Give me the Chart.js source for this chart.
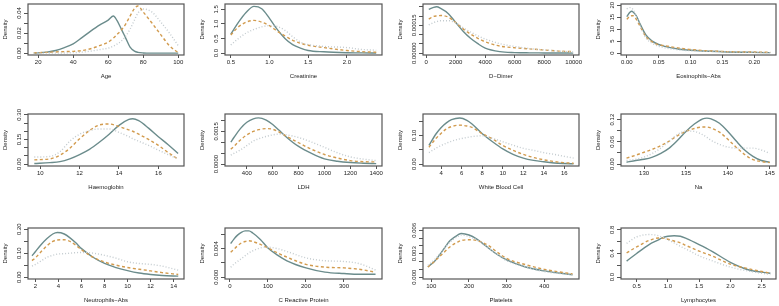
<!DOCTYPE html>
<html lang="en">
<head>
<meta charset="UTF-8">
<title>Densities by group</title>
<script src="https://cdn.jsdelivr.net/npm/chart.js"></script>
<style>
  html, body { margin: 0; padding: 0; background: #fff; overflow: hidden; }
  #wrap { position: relative; width: 779px; height: 306px; }
  canvas { position: absolute; }
</style>
</head>
<body>
<div id="wrap"></div>
<script>
// --- values (solid / dashed / dotted groups) ---
const ageX = [17.5, 25, 30, 35, 40, 45, 50, 55, 60, 63, 65, 67.5, 70, 72.5, 75, 77, 80, 85, 90, 95, 100];
const ageA = [0, 0.001, 0.0026, 0.0055, 0.0093, 0.0155, 0.022, 0.028, 0.033, 0.037, 0.0326, 0.024, 0.015, 0.006, 0.002, 0.0008, 0.0002, 0, 0, 0, 0];
const ageB = [0.0003, 0.0008, 0.0012, 0.0015, 0.0018, 0.0025, 0.0044, 0.0074, 0.011, 0.015, 0.0185, 0.023, 0.029, 0.037, 0.0444, 0.047, 0.041, 0.030, 0.0185, 0.0074, 0.0005];
const ageC = [0, 0, 0, 0.0002, 0.0005, 0.001, 0.002, 0.0035, 0.005, 0.007, 0.009, 0.012, 0.017, 0.024, 0.033, 0.040, 0.044, 0.041, 0.031, 0.020, 0.0074];

const creX = [0.5, 0.6, 0.7, 0.8, 0.9, 1.0, 1.1, 1.2, 1.3, 1.4, 1.5, 1.7, 2.0, 2.2, 2.38];
const creA = [0.65, 1.06, 1.4, 1.6, 1.52, 1.19, 0.81, 0.5, 0.29, 0.17, 0.09, 0.045, 0.015, 0.008, 0.005];
const creB = [0.62, 0.9, 1.06, 1.12, 1.06, 0.94, 0.75, 0.59, 0.44, 0.34, 0.27, 0.19, 0.09, 0.05, 0.03];
const creC = [0.28, 0.5, 0.69, 0.81, 0.9, 0.94, 0.91, 0.78, 0.56, 0.38, 0.29, 0.23, 0.19, 0.125, 0.1];

const ddX = [170, 500, 700, 1000, 1500, 2000, 2500, 3000, 3500, 4000, 5000, 6000, 7000, 8000, 9000, 9970];
const ddA = [0.000236, 0.000247, 0.00025, 0.00024, 0.000213, 0.000165, 0.000118, 0.00008, 0.000051, 0.000027, 0.000008, 0.000003, 0.0000015, 0.000001, 0.0000005, 0.0000003];
const ddB = [0.000184, 0.000198, 0.000201, 0.000203, 0.000194, 0.000165, 0.000131, 0.000103, 0.00008, 0.000061, 0.000038, 0.000029, 0.000023, 0.000017, 0.000011, 0.000008];
const ddC = [0.000152, 0.000165, 0.00017, 0.000175, 0.000175, 0.000164, 0.000137, 0.000114, 0.000093, 0.000076, 0.000051, 0.000036, 0.000025, 0.000017, 0.000011, 0.000006];

const eosX = [0, 0.005, 0.008, 0.01, 0.015, 0.02, 0.03, 0.04, 0.05, 0.06, 0.07, 0.08, 0.1, 0.15, 0.2, 0.225];
const eosA = [15.2, 17.05, 17.5, 17.2, 15.6, 12.7, 7.6, 5.0, 3.6, 2.8, 2.2, 1.75, 1.2, 0.6, 0.3, 0.2];
const eosB = [14.1, 15.4, 15.6, 15.6, 14.1, 11.7, 6.9, 4.7, 3.5, 3.1, 2.6, 2.2, 1.5, 0.7, 0.45, 0.35];
const eosC = [18.5, 19.0, 18.8, 18.1, 15.6, 12.0, 6.4, 4.1, 2.9, 2.2, 1.75, 1.4, 1.0, 0.6, 0.3, 0.2];

const hbX = [9.7, 10.5, 11, 11.5, 12, 12.5, 13, 13.5, 14, 14.5, 14.7, 15, 15.5, 16, 16.5, 17];
const hbA = [0.004, 0.009, 0.015, 0.032, 0.058, 0.09, 0.133, 0.182, 0.236, 0.272, 0.276, 0.264, 0.219, 0.167, 0.118, 0.064];
const hbB = [0.026, 0.032, 0.054, 0.096, 0.154, 0.204, 0.238, 0.244, 0.229, 0.208, 0.2, 0.182, 0.15, 0.114, 0.07, 0.03];
const hbC = [0.043, 0.047, 0.075, 0.139, 0.182, 0.204, 0.214, 0.214, 0.193, 0.167, 0.155, 0.139, 0.114, 0.085, 0.057, 0.032];

const ldhX = [276, 300, 350, 400, 450, 490, 550, 600, 650, 700, 800, 900, 1000, 1100, 1200, 1300, 1400];
const ldhA = [0.00101, 0.00122, 0.00163, 0.00192, 0.00208, 0.00212, 0.00202, 0.00182, 0.00155, 0.00127, 0.00081, 0.00049, 0.00024, 0.00013, 0.00007, 0.00004, 0.00002];
const ldhB = [0.00068, 0.00081, 0.00111, 0.00134, 0.0015, 0.00158, 0.00163, 0.0016, 0.00147, 0.0013, 0.00098, 0.00068, 0.00044, 0.00028, 0.00016, 0.00011, 0.0001];
const ldhC = [0.00041, 0.00049, 0.00065, 0.00085, 0.00106, 0.00116, 0.00127, 0.00134, 0.00138, 0.00135, 0.00122, 0.00101, 0.00077, 0.00052, 0.00033, 0.00023, 0.00016];

const wbcX = [2.8, 3.5, 4, 4.5, 5, 5.8, 6.5, 7, 8, 9, 10, 11, 12, 13, 14, 15, 16, 16.9];
const wbcA = [0.065, 0.106, 0.128, 0.144, 0.155, 0.161, 0.153, 0.14, 0.106, 0.078, 0.053, 0.034, 0.021, 0.013, 0.008, 0.004, 0.002, 0.001];
const wbcB = [0.059, 0.09, 0.108, 0.123, 0.131, 0.136, 0.133, 0.128, 0.106, 0.088, 0.065, 0.048, 0.034, 0.023, 0.015, 0.009, 0.005, 0.003];
const wbcC = [0.04, 0.056, 0.065, 0.073, 0.08, 0.088, 0.093, 0.096, 0.099, 0.09, 0.078, 0.066, 0.055, 0.048, 0.04, 0.034, 0.027, 0.021];

const naX = [127.9, 129, 130, 131, 132, 133, 134, 135, 136, 137, 137.5, 138, 139, 140, 141, 142, 143, 144, 145];
const naA = [0.005, 0.0096, 0.013, 0.019, 0.029, 0.043, 0.064, 0.088, 0.108, 0.122, 0.124, 0.122, 0.11, 0.088, 0.062, 0.038, 0.021, 0.0096, 0.005];
const naB = [0.016, 0.024, 0.032, 0.04, 0.05, 0.062, 0.077, 0.088, 0.096, 0.1, 0.1, 0.097, 0.086, 0.067, 0.045, 0.026, 0.012, 0.007, 0.004];
const naC = [0.0096, 0.013, 0.019, 0.029, 0.043, 0.062, 0.08, 0.089, 0.088, 0.079, 0.072, 0.064, 0.053, 0.046, 0.043, 0.043, 0.043, 0.038, 0.029];

const neuX = [1.7, 2, 2.5, 3, 3.5, 3.9, 4.5, 5, 5.5, 6, 7, 8, 9, 10, 11, 12, 13, 14.4];
const neuA = [0.089, 0.107, 0.136, 0.161, 0.18, 0.186, 0.18, 0.164, 0.143, 0.119, 0.083, 0.057, 0.04, 0.027, 0.017, 0.011, 0.007, 0.004];
const neuB = [0.069, 0.081, 0.107, 0.131, 0.149, 0.155, 0.156, 0.149, 0.133, 0.114, 0.083, 0.063, 0.05, 0.04, 0.033, 0.026, 0.019, 0.011];
const neuC = [0.046, 0.053, 0.068, 0.083, 0.091, 0.096, 0.098, 0.1, 0.102, 0.103, 0.1, 0.091, 0.079, 0.064, 0.057, 0.053, 0.046, 0.029];

const crpX = [2, 10, 20, 30, 40, 50, 60, 80, 100, 125, 150, 200, 250, 300, 340, 383];
const crpA = [0.0047, 0.0053, 0.0059, 0.0063, 0.0065, 0.0065, 0.0062, 0.0053, 0.0041, 0.0031, 0.0023, 0.0013, 0.0007, 0.0005, 0.0004, 0.0004];
const crpB = [0.0035, 0.0039, 0.0044, 0.0048, 0.005, 0.0051, 0.005, 0.0046, 0.0041, 0.0034, 0.0028, 0.0018, 0.0014, 0.0013, 0.0011, 0.0007];
const crpC = [0.0014, 0.0018, 0.0022, 0.0026, 0.003, 0.0034, 0.0037, 0.0041, 0.0042, 0.004, 0.0036, 0.0027, 0.0023, 0.0022, 0.0019, 0.001];

const pltX = [91, 110, 130, 150, 170, 180, 200, 220, 250, 275, 300, 350, 400, 475];
const pltA = [0.0013, 0.0021, 0.0034, 0.0047, 0.0054, 0.0056, 0.0054, 0.0049, 0.0038, 0.0029, 0.0022, 0.0013, 0.0008, 0.0003];
const pltB = [0.0013, 0.0021, 0.003, 0.0039, 0.0045, 0.0047, 0.0048, 0.0047, 0.0041, 0.0032, 0.0024, 0.0016, 0.001, 0.0004];
const pltC = [0.0015, 0.0023, 0.0034, 0.0045, 0.0052, 0.0054, 0.0052, 0.0048, 0.0038, 0.0029, 0.0021, 0.0013, 0.0007, 0.0003];

const lymX = [0.34, 0.5, 0.7, 0.85, 0.9, 1.0, 1.1, 1.2, 1.3, 1.5, 1.7, 2.0, 2.3, 2.64];
const lymA = [0.27, 0.4, 0.55, 0.63, 0.66, 0.69, 0.7, 0.69, 0.65, 0.55, 0.44, 0.25, 0.12, 0.066];
const lymB = [0.41, 0.51, 0.62, 0.66, 0.66, 0.64, 0.61, 0.58, 0.53, 0.44, 0.36, 0.22, 0.14, 0.066];
const lymC = [0.57, 0.68, 0.72, 0.7, 0.68, 0.63, 0.58, 0.52, 0.47, 0.36, 0.28, 0.17, 0.1, 0.044];

// tick values and labels ('' = tick without label, as R drops crowded ones)
const ageXTicks = [20, 40, 60, 80, 100];
const ageYTicks = [0, 0.01, 0.02, 0.03, 0.04];
const ageYLabels = ['0.00', '', '0.02', '', '0.04'];
const creXTicks = [0.5, 1.0, 1.5, 2.0];
const creYTicks = [0, 0.5, 1.0, 1.5];
const creYLabels = ['0.0', '0.5', '1.0', '1.5'];
const ddXTicks = [0, 2000, 4000, 6000, 8000, 10000];
const ddYTicks = [0, 0.00005, 0.0001, 0.00015, 0.0002, 0.00025];
const ddYLabels = ['0.00000', '', '', '0.00015', '', ''];
const eosXTicks = [0, 0.05, 0.10, 0.15, 0.20];
const eosYTicks = [0, 5, 10, 15, 20];
const eosYLabels = ['0', '5', '10', '15', '20'];
const hbXTicks = [10, 12, 14, 16];
const hbYTicks = [0, 0.05, 0.1, 0.15, 0.2, 0.25, 0.3];
const hbYLabels = ['0.00', '', '', '0.15', '', '', '0.30'];
const ldhXTicks = [400, 600, 800, 1000, 1200, 1400];
const ldhYTicks = [0, 0.0005, 0.001, 0.0015, 0.002];
const ldhYLabels = ['0.0000', '', '', '0.0015', ''];
const wbcXTicks = [4, 6, 8, 10, 12, 14, 16];
const wbcYTicks = [0, 0.05, 0.1, 0.15];
const wbcYLabels = ['0.00', '', '0.10', ''];
const naXTicks = [130, 135, 140, 145];
const naYTicks = [0, 0.03, 0.06, 0.09, 0.12];
const naYLabels = ['0.00', '', '0.06', '', '0.12'];
const neuXTicks = [2, 4, 6, 8, 10, 12, 14];
const neuYTicks = [0, 0.05, 0.1, 0.15, 0.2];
const neuYLabels = ['0.00', '', '0.10', '', '0.20'];
const crpXTicks = [0, 100, 200, 300];
const crpYTicks = [0, 0.002, 0.004, 0.006];
const crpYLabels = ['0.000', '', '0.004', ''];
const pltXTicks = [100, 200, 300, 400];
const pltYTicks = [0, 0.001, 0.002, 0.003, 0.004, 0.005, 0.006];
const pltYLabels = ['0.000', '', '', '0.003', '', '', '0.006'];
const lymXTicks = [0.5, 1.0, 1.5, 2.0, 2.5];
const lymYTicks = [0, 0.2, 0.4, 0.6, 0.8];
const lymYLabels = ['0.0', '', '0.4', '', '0.8'];

const panels = [
  { name: 'Age', x: ageX, a: ageA, b: ageB, c: ageC, xt: ageXTicks, xl: ageXTicks.map(String), yt: ageYTicks, yl: ageYLabels, xr: [14.2, 103.3], yTop: 0.049 },
  { name: 'Creatinine', x: creX, a: creA, b: creB, c: creC, xt: creXTicks, xl: ['0.5', '1.0', '1.5', '2.0'], yt: creYTicks, yl: creYLabels, xr: [0.425, 2.455], yTop: 1.68 },
  { name: 'D\u2212Dimer', x: ddX, a: ddA, b: ddB, c: ddC, xt: ddXTicks, xl: ddXTicks.map(String), yt: ddYTicks, yl: ddYLabels, xr: [-222, 10362], yTop: 0.000265 },
  { name: 'Eosinophils\u2212Abs', x: eosX, a: eosA, b: eosB, c: eosC, xt: eosXTicks, xl: ['0.00', '0.05', '0.10', '0.15', '0.20'], yt: eosYTicks, yl: eosYLabels, xr: [-0.009, 0.234], yTop: 20.5 },
  { name: 'Haemoglobin', x: hbX, a: hbA, b: hbB, c: hbC, xt: hbXTicks, xl: hbXTicks.map(String), yt: hbYTicks, yl: hbYLabels, xr: [9.38, 17.3], yTop: 0.305 },
  { name: 'LDH', x: ldhX, a: ldhA, b: ldhB, c: ldhC, xt: ldhXTicks, xl: ldhXTicks.map(String), yt: ldhYTicks, yl: ldhYLabels, xr: [231, 1445], yTop: 0.0023 },
  { name: 'White Blood Cell', x: wbcX, a: wbcA, b: wbcB, c: wbcC, xt: wbcXTicks, xl: wbcXTicks.map(String), yt: wbcYTicks, yl: wbcYLabels, xr: [2.22, 17.43], yTop: 0.175 },
  { name: 'Na', x: naX, a: naA, b: naB, c: naC, xt: naXTicks, xl: naXTicks.map(String), yt: naYTicks, yl: naYLabels, xr: [127.24, 145.75], yTop: 0.135 },
  { name: 'Neutrophils\u2212Abs', x: neuX, a: neuA, b: neuB, c: neuC, xt: neuXTicks, xl: neuXTicks.map(String), yt: neuYTicks, yl: neuYLabels, xr: [1.35, 14.9], yTop: 0.205 },
  { name: 'C Reactive Protein', x: crpX, a: crpA, b: crpB, c: crpC, xt: crpXTicks, xl: crpXTicks.map(String), yt: crpYTicks, yl: crpYLabels, xr: [-13, 400], yTop: 0.0069 },
  { name: 'Platelets', x: pltX, a: pltA, b: pltB, c: pltC, xt: pltXTicks, xl: pltXTicks.map(String), yt: pltYTicks, yl: pltYLabels, xr: [78, 492], yTop: 0.0063 },
  { name: 'Lymphocytes', x: lymX, a: lymA, b: lymB, c: lymC, xt: lymXTicks, xl: ['0.5', '1.0', '1.5', '2.0', '2.5'], yt: lymYTicks, yl: lymYLabels, xr: [0.25, 2.73], yTop: 0.83 }
];

// layout of the plot boxes on the page
const colLeft = [28, 225, 423, 621];
const colW = [156, 157, 156, 155];
const rowTop = [4, 114, 228];
const rowH = [51, 52, 51];

const FONT = '"Liberation Sans", Arial, sans-serif';
const solidCol = '#6b8c8c', dashCol = '#d29b4e', dotCol = '#c3cbcf', axisCol = '#555';
const padL = 30, padT = 8, padR = 14, padB = 30;

function framePlugin(p) {
  return {
    id: 'frame',
    afterDraw(chart) {
      const { ctx, chartArea: a } = chart;
      const ys = chart.scales.y;
      ctx.save();
      ctx.strokeStyle = axisCol;
      ctx.lineWidth = 1.2;
      ctx.strokeRect(a.left, a.top, a.right - a.left, a.bottom - a.top);
      ctx.fillStyle = '#222';
      ctx.textAlign = 'center';
      ctx.textBaseline = 'middle';
      ctx.font = '6px ' + FONT;
      p.yt.forEach((v, k) => {
        if (!p.yl[k]) return;
        ctx.save();
        ctx.translate(a.left - 9, ys.getPixelForValue(v));
        ctx.rotate(-Math.PI / 2);
        ctx.fillText(p.yl[k], 0, 0);
        ctx.restore();
      });
      ctx.save();
      ctx.translate(a.left - 23, (a.top + a.bottom) / 2);
      ctx.rotate(-Math.PI / 2);
      ctx.fillText('Density', 0, 0);
      ctx.restore();
      ctx.fillText(p.name, (a.left + a.right) / 2, a.bottom + 21);
      ctx.restore();
    }
  };
}

const wrap = document.getElementById('wrap');
panels.forEach((p, i) => {
  const col = i % 4, row = Math.floor(i / 4);
  const bw = colW[col], bh = rowH[row];
  const cv = document.createElement('canvas');
  cv.width = bw + padL + padR;
  cv.height = bh + padT + padB;
  cv.style.left = (colLeft[col] - padL) + 'px';
  cv.style.top = (rowTop[row] - padT) + 'px';
  wrap.appendChild(cv);

  const pts = arr => p.x.map((v, k) => ({ x: v, y: arr[k] }));
  new Chart(cv, {
    type: 'line',
    data: {
      datasets: [
        { data: pts(p.c), borderColor: dotCol, borderWidth: 1.4, borderDash: [1, 2] },
        { data: pts(p.b), borderColor: dashCol, borderWidth: 1.4, borderDash: [3, 2.5] },
        { data: pts(p.a), borderColor: solidCol, borderWidth: 1.4 }
      ]
    },
    options: {
      responsive: false,
      animation: false,
      events: [],
      layout: { padding: { left: 0, top: padT, right: padR, bottom: 0 } },
      elements: { point: { radius: 0 }, line: { cubicInterpolationMode: 'monotone', fill: false } },
      plugins: { legend: { display: false }, tooltip: { enabled: false } },
      scales: {
        x: {
          type: 'linear', min: p.xr[0], max: p.xr[1],
          afterBuildTicks: s => { s.ticks = p.xt.map(v => ({ value: v })); },
          afterFit: s => { s.height = padB; s.paddingLeft = 0; s.paddingRight = 0; },
          ticks: { autoSkip: false, maxRotation: 0, minRotation: 0, padding: 1, color: '#222',
                   font: { size: 6, family: FONT }, callback: (v, k) => p.xl[k] },
          grid: { drawOnChartArea: false, tickLength: 3, color: axisCol, lineWidth: 1 },
          border: { display: false }
        },
        y: {
          type: 'linear', min: -p.yTop * 0.038, max: p.yTop,
          afterBuildTicks: s => { s.ticks = p.yt.map(v => ({ value: v })); },
          afterFit: s => { s.width = padL; s.paddingTop = 0; s.paddingBottom = 0; },
          ticks: { display: false },
          grid: { drawOnChartArea: false, tickLength: 4, color: axisCol, lineWidth: 1 },
          border: { display: false }
        }
      }
    },
    plugins: [framePlugin(p)]
  });
});
</script>
</body>
</html>
